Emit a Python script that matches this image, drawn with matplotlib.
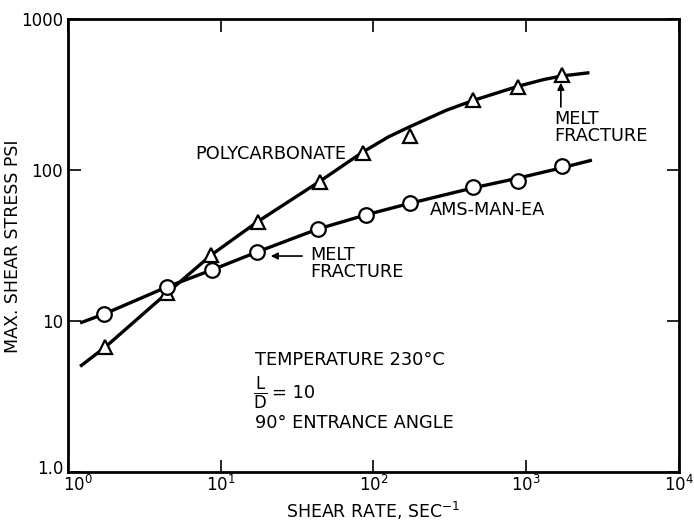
import matplotlib.pyplot as plt
from matplotlib.transforms import ScaledTranslation

# measured points (shear rate, max shear stress psi)
pc_rate = [1.75, 4.45, 8.7, 17.5, 44.6, 85, 173, 448, 883, 1714]
pc_stress = [6.7, 15.3, 27.4, 45.3, 83.3, 130, 168, 291, 354, 426]
ams_rate = [1.72, 4.45, 8.8, 17.3, 43.3, 90, 173, 450, 880, 1714]
ams_stress = [11.1, 16.8, 21.8, 28.6, 40.7, 50.4, 60.4, 77.1, 84.5, 106]

# hand drawn fit curves
pc_curve_x = [1.2, 1.75, 4.45, 8.7, 17.5, 44.6, 85, 125, 173, 300, 450, 880, 1300, 1700, 2600]
pc_curve_y = [5.0, 6.7, 15.3, 27.4, 45.5, 84, 131, 165, 193, 248, 288, 357, 396, 418, 440]
ams_curve_x = [1.2, 1.72, 4.45, 8.8, 17.3, 43, 90, 173, 450, 880, 1700, 2700]
ams_curve_y = [9.7, 11.1, 16.8, 21.8, 28.6, 40.5, 50.5, 60, 76, 88, 103, 116]

x_ticks = [1, 10, 100, 1000, 10000]
x_labels = ['$10^0$', '$10^1$', '$10^2$', '$10^3$', '$10^4$']
y_ticks = [1, 10, 100, 1000]
y_labels = ['1.0', '10', '100', '1000']

plt.rcParams['font.family'] = 'DejaVu Sans'
plt.rcParams['mathtext.fontset'] = 'dejavusans'

fig = plt.figure(figsize=(6.94, 5.23), dpi=100)
ax = fig.add_axes([0.098, 0.0975, 0.88, 0.8665])
ax.set_xscale('log')
ax.set_yscale('log')
ax.set_xlim(1, 10000)
ax.set_ylim(1, 1000)

ax.plot(pc_curve_x, pc_curve_y, color='k', lw=2.4, solid_capstyle='butt')
ax.plot(ams_curve_x, ams_curve_y, color='k', lw=2.4, solid_capstyle='butt')
ax.plot(pc_rate, pc_stress, linestyle='none', marker='^', ms=10, mfc='white', mec='k', mew=1.6)
ax.plot(ams_rate, ams_stress, linestyle='none', marker='o', ms=10.5, mfc='white', mec='k', mew=1.6)

ax.set_xticks(x_ticks)
ax.set_xticklabels(x_labels)
ax.set_yticks(y_ticks)
ax.set_yticklabels(y_labels)
ax.minorticks_off()
ax.tick_params(direction='in', length=9, width=1.2, labelsize=12, top=True, right=True)
ax.tick_params(axis='x', pad=2)
for s in ax.spines.values():
    s.set_linewidth(2)

# corner labels nudged apart like the original
lbl = ax.get_xticklabels()[0]
lbl.set_transform(lbl.get_transform() + ScaledTranslation(0.1, 0, fig.dpi_scale_trans))
lbl = ax.get_yticklabels()[0]
lbl.set_transform(lbl.get_transform() + ScaledTranslation(0, 0.05, fig.dpi_scale_trans))

ax.set_xlabel('SHEAR RATE, SEC$^{-1}$', fontsize=12.5, va='baseline')
ax.xaxis.set_label_coords(0.499, -0.101)
ax.set_ylabel('MAX. SHEAR STRESS PSI', fontsize=12.5, va='center')
ax.yaxis.set_label_coords(-0.09, 0.499)

fs = 12.8
ax.text(6.8, 127, 'POLYCARBONATE', fontsize=fs, va='center')
ax.text(234, 54, 'AMS-MAN-EA', fontsize=fs, va='center')
ax.text(1540, 190, 'MELT\nFRACTURE', fontsize=fs, va='center', linespacing=0.95)
ax.annotate('', xy=(1690, 394), xytext=(1690, 250),
            arrowprops=dict(arrowstyle='-|>', color='k', lw=1.2, mutation_scale=10))
ax.text(38.4, 24, 'MELT\nFRACTURE', fontsize=fs, va='center', linespacing=0.95)
ax.annotate('', xy=(20.4, 26.9), xytext=(35.6, 26.9),
            arrowprops=dict(arrowstyle='-|>', color='k', lw=1.2, mutation_scale=10))

ax.text(16.8, 5.52, 'TEMPERATURE 230°C', fontsize=fs, va='center')
ax.text(16.2, 3.3, r'$\frac{\mathsf{L}}{\mathsf{D}}$', fontsize=17, va='center')
ax.text(21.8, 3.34, '= 10', fontsize=fs, va='center')
ax.text(16.8, 2.11, '90° ENTRANCE ANGLE', fontsize=fs, va='center')

fig.savefig('out.png', dpi=100)
